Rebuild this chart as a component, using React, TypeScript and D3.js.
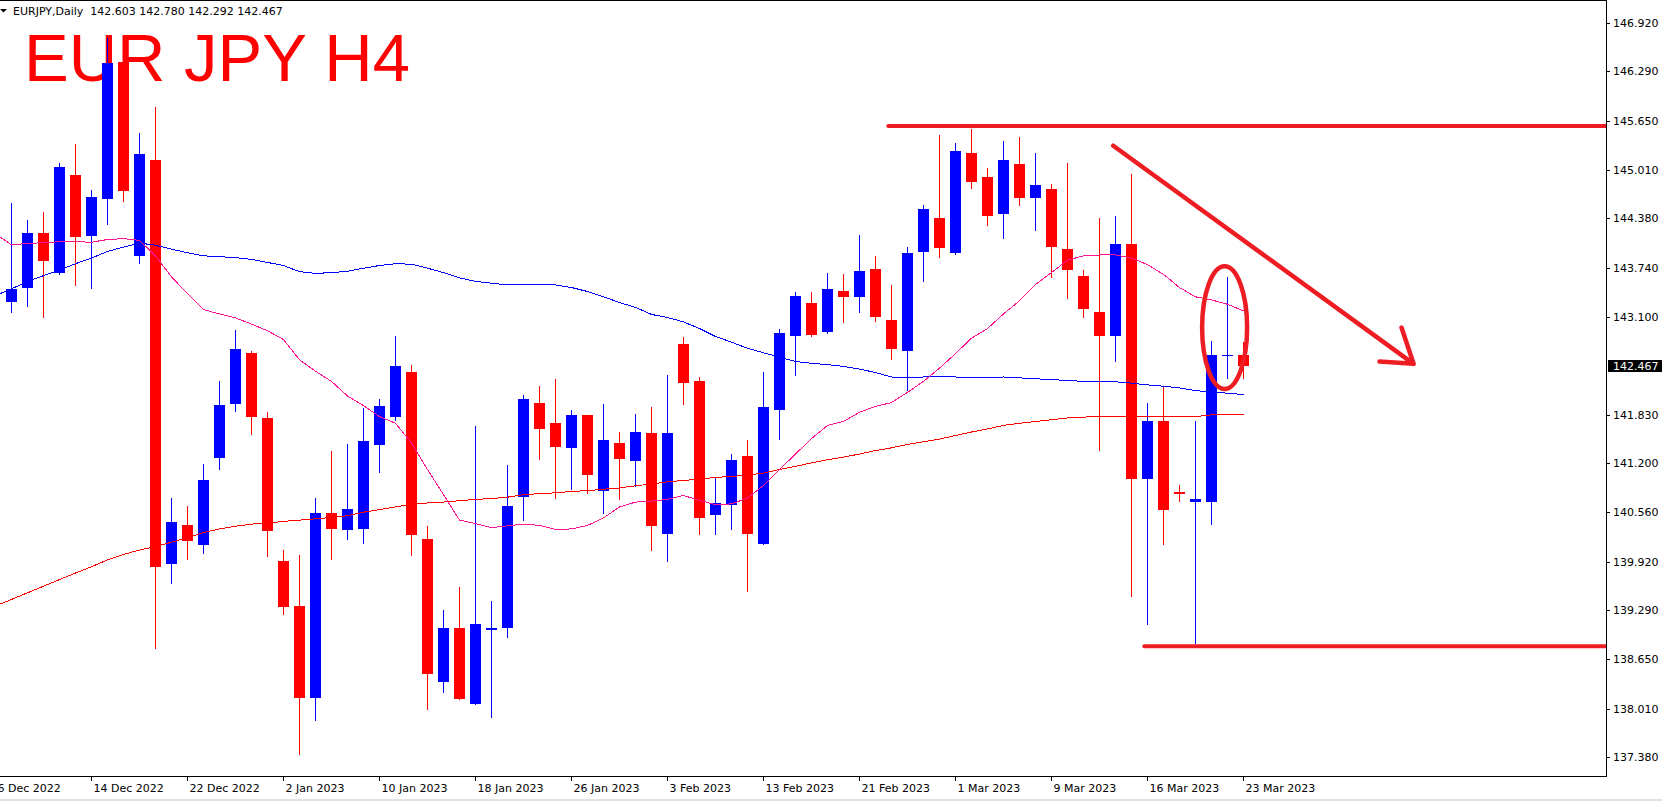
import React, { useEffect } from 'react';
import * as d3 from 'd3';

const W = 1662;
const H = 801;
const PLOT_RIGHT = 1606;
const PLOT_BOTTOM = 776;

const opens = [143.298, 143.476, 144.186, 143.676, 144.941, 144.157, 144.638, 146.417, 143.894, 145.136,
  139.886, 140.390, 140.132, 141.266, 141.970, 142.628, 141.781, 139.921, 139.337, 138.146,
  140.556, 140.327, 140.344, 141.438, 141.798, 142.382, 140.207, 138.352, 139.051, 138.071,
  139.028, 139.056, 140.756, 141.976, 141.718, 141.398, 141.821, 140.837, 141.455, 141.226,
  141.587, 140.275, 142.743, 142.262, 140.527, 140.653, 141.289, 140.150, 141.890, 142.852,
  143.275, 142.903, 143.436, 143.361, 143.722, 143.058, 142.657, 143.945, 144.386, 143.934,
  145.228, 144.918, 144.443, 145.085, 144.649, 144.758, 143.980, 143.630, 143.161, 142.852,
  144.043, 140.991, 141.741, 140.819, 140.699, 140.693, 142.588, 142.603];
const highs = [144.581, 144.357, 144.461, 145.096, 145.348, 144.747, 146.721, 146.430, 145.491, 145.829,
  140.751, 140.648, 141.192, 142.262, 142.926, 142.651, 141.861, 140.075, 140.000, 140.751,
  141.352, 141.443, 141.913, 142.039, 142.846, 142.480, 140.379, 139.285, 139.594, 141.678,
  139.411, 141.180, 142.085, 142.199, 142.291, 141.896, 141.830, 141.964, 141.598, 141.833,
  141.924, 142.342, 142.835, 142.319, 141.020, 141.312, 141.495, 142.382, 142.938, 143.430,
  143.430, 143.670, 143.653, 144.163, 143.888, 143.510, 144.008, 144.552, 145.462, 145.359,
  145.548, 145.033, 145.382, 145.440, 145.228, 144.827, 145.096, 143.705, 144.386, 144.409,
  144.953, 141.987, 142.199, 140.911, 141.741, 142.783, 143.613, 142.780];
const lows = [143.155, 143.230, 143.086, 143.648, 143.504, 143.464, 144.300, 144.597, 143.791, 138.781,
  139.629, 139.938, 140.018, 141.111, 141.867, 141.564, 139.978, 139.222, 137.400, 137.848,
  139.938, 140.201, 140.150, 141.071, 141.747, 139.989, 137.986, 138.209, 138.120, 138.060,
  137.882, 138.925, 140.447, 141.243, 140.733, 140.848, 140.796, 140.539, 140.722, 140.888,
  140.058, 139.915, 141.953, 140.264, 140.264, 140.327, 139.526, 140.132, 141.501, 142.331,
  142.840, 142.880, 143.024, 143.155, 143.035, 142.543, 142.136, 143.556, 143.871, 143.905,
  144.764, 144.283, 144.106, 144.546, 144.220, 143.607, 143.333, 143.081, 141.357, 142.514,
  139.457, 139.096, 140.132, 140.688, 138.844, 140.396, 142.296, 142.292];
const closes = [143.459, 144.186, 143.831, 145.044, 144.140, 144.655, 146.396, 144.740, 145.216, 139.852,
  140.430, 140.184, 140.985, 141.953, 142.680, 141.798, 140.316, 139.331, 138.146, 140.545,
  140.344, 140.607, 141.484, 141.936, 142.468, 140.264, 138.455, 139.051, 138.129, 139.113,
  139.062, 140.648, 142.039, 141.644, 141.409, 141.821, 141.043, 141.506, 141.254, 141.598,
  140.384, 141.587, 142.245, 140.487, 140.676, 141.237, 140.275, 141.924, 142.886, 143.367,
  142.869, 143.459, 143.361, 143.693, 143.104, 142.686, 143.928, 144.501, 143.997, 145.256,
  144.856, 144.415, 145.136, 144.649, 144.810, 144.014, 143.710, 143.207, 142.852, 144.043,
  140.991, 141.741, 140.590, 140.802, 140.728, 142.600, 142.606, 142.467];

// moving averages, first value belongs to bar -1 (just off the left edge)
const maStartBar = -1;
const maBlue = [143.378,
  143.464, 143.562, 143.636, 143.710, 143.791, 143.865, 143.951, 144.008, 144.060, 144.031,
  143.980, 143.934, 143.894, 143.882, 143.871, 143.848, 143.808, 143.768, 143.688, 143.665,
  143.676, 143.693, 143.733, 143.768, 143.791, 143.785, 143.733, 143.676, 143.607, 143.562,
  143.539, 143.516, 143.522, 143.522, 143.516, 143.482, 143.430, 143.361, 143.287, 143.224,
  143.132, 143.092, 143.035, 142.949, 142.846, 142.772, 142.692, 142.634, 142.577, 142.520,
  142.497, 142.480, 142.457, 142.422, 142.377, 142.319, 142.314, 142.319, 142.319, 142.319,
  142.314, 142.314, 142.319, 142.308, 142.296, 142.285, 142.274, 142.262, 142.257, 142.257,
  142.239, 142.216, 142.199, 142.176, 142.142, 142.125, 142.108, 142.090];
const maPink = [144.180,
  144.037, 144.054, 144.065, 144.077, 144.077, 144.071, 144.106, 144.117, 144.094, 143.894,
  143.620, 143.401, 143.195, 143.138, 143.087, 143.007, 142.920, 142.806, 142.543, 142.394,
  142.262, 142.073, 141.947, 141.804, 141.718, 141.460, 141.117, 140.790, 140.459, 140.413,
  140.361, 140.384, 140.407, 140.390, 140.338, 140.344, 140.390, 140.487, 140.630, 140.693,
  140.705, 140.728, 140.779, 140.716, 140.659, 140.670, 140.745, 140.910, 141.117, 141.317,
  141.518, 141.690, 141.741, 141.861, 141.936, 141.987, 142.119, 142.262, 142.434, 142.623,
  142.823, 142.949, 143.138, 143.310, 143.522, 143.676, 143.837, 143.894, 143.905, 143.905,
  143.865, 143.779, 143.653, 143.481, 143.361, 143.321, 143.264, 143.178];
const maRed = [139.343,
  139.428, 139.514, 139.600, 139.686, 139.771, 139.852, 139.943, 140.012, 140.070, 140.115,
  140.172, 140.230, 140.298, 140.344, 140.379, 140.407, 140.419, 140.442, 140.459, 140.476,
  140.493, 140.516, 140.562, 140.596, 140.630, 140.665, 140.682, 140.694, 140.711, 140.728,
  140.739, 140.757, 140.791, 140.802, 140.814, 140.831, 140.842, 140.860, 140.877, 140.905,
  140.928, 140.957, 140.974, 140.991, 141.014, 141.026, 141.043, 141.070, 141.117, 141.157,
  141.203, 141.243, 141.278, 141.317, 141.363, 141.398, 141.443, 141.478, 141.512, 141.558,
  141.604, 141.644, 141.690, 141.718, 141.741, 141.764, 141.787, 141.798, 141.804, 141.804,
  141.804, 141.804, 141.804, 141.804, 141.804, 141.827, 141.827, 141.827];

const yTickValues = [146.92, 146.29, 145.65, 145.01, 144.38, 143.74, 143.10, 141.83, 141.20, 140.56, 139.92, 139.29, 138.65, 138.01, 137.38];
const lastPrice = 142.467;
const xTickBars = [-1, 5, 11, 17, 23, 29, 35, 41, 47, 53, 59, 65, 71, 77];
const xTickLabels = ['6 Dec 2022', '14 Dec 2022', '22 Dec 2022', '2 Jan 2023', '10 Jan 2023', '18 Jan 2023', '26 Jan 2023', '3 Feb 2023', '13 Feb 2023', '21 Feb 2023', '1 Mar 2023', '9 Mar 2023', '16 Mar 2023', '23 Mar 2023'];

const headerText = 'EURJPY,Daily  142.603 142.780 142.292 142.467';
const titleText = 'EUR JPY H4';

// annotations in data units (bar index, price)
const resistance = { fromBar: 54.8, price: 145.58 };
const support = { fromBar: 70.8, price: 138.82 };
const arrowStart = { bar: 68.86, price: 145.325 };
const arrowTip = { bar: 87.63, price: 142.49 };
const arrowWingA = { bar: 85.5, price: 142.52 };
const arrowWingB = { bar: 86.875, price: 142.962 };
const ellipseMark = { bar: 75.82, price: 142.961, halfBars: 1.406, halfPrice: 0.797 };

const BLUE = '#0000ff';
const RED = '#ff0000';
const PINK = '#ff1493';
const MARK = '#ee1d23';
const FONT = '"DejaVu Sans", Verdana, sans-serif';

export default function App() {
  useEffect(() => {
    document.body.style.margin = '0';
  }, []);

  const x = d3.scaleLinear().domain([0, 77]).range([11.5, 1243.5]);
  const y = d3.scaleLinear().domain([137.133, 147.2188]).range([PLOT_BOTTOM, 0]);

  const maLine = d3.line<number>()
    .x((_, i) => x(i + maStartBar))
    .y((d) => y(d));

  const candles = opens.map((o, i) => {
    const c = closes[i];
    const up = c >= o;
    const color = up ? BLUE : RED;
    const cx = x(i);
    const yo = y(o);
    const yc = y(c);
    const top = Math.round(Math.min(yo, yc));
    const bot = Math.round(Math.max(yo, yc));
    const hgt = Math.max(1, bot - top);
    const yh = Math.round(y(highs[i]));
    const yl = Math.round(y(lows[i]));
    return (
      <g key={i} fill={color}>
        <rect x={cx - 0.5} y={yh} width={1} height={Math.max(1, yl - yh)} />
        <rect x={cx - 5.5} y={top} width={11} height={hgt} />
      </g>
    );
  });

  const pt = (p: { bar: number; price: number }) => [x(p.bar), y(p.price)];
  const [sx, sy] = pt(arrowStart);
  const [tx, ty] = pt(arrowTip);
  const [ax, ay] = pt(arrowWingA);
  const [bx, by] = pt(arrowWingB);
  const ecx = x(ellipseMark.bar);
  const ecy = y(ellipseMark.price);
  const erx = x(ellipseMark.bar + ellipseMark.halfBars) - ecx;
  const ery = y(ellipseMark.price - ellipseMark.halfPrice) - ecy;

  const lastY = y(lastPrice);

  return (
    <svg width={W} height={H} style={{ position: 'absolute', left: 0, top: 0, display: 'block' }} xmlns="http://www.w3.org/2000/svg">
      <defs>
        <clipPath id="plot">
          <rect x={0} y={0} width={PLOT_RIGHT} height={PLOT_BOTTOM} />
        </clipPath>
      </defs>
      <rect x={0} y={0} width={W} height={H} fill="#ffffff" />

      <text x={24} y={81} fontFamily='"Liberation Sans", Arial, sans-serif' fontSize={67} fill={RED}>{titleText}</text>

      <g clipPath="url(#plot)" shapeRendering="crispEdges">
        {candles}
      </g>

      <g clipPath="url(#plot)" fill="none" strokeWidth={1} shapeRendering="crispEdges">
        <path d={maLine(maRed) || ''} stroke={RED} />
        <path d={maLine(maBlue) || ''} stroke={BLUE} />
        <path d={maLine(maPink) || ''} stroke={PINK} />
      </g>

      <g clipPath="url(#plot)" fill="none" stroke={MARK} strokeLinecap="round" strokeLinejoin="round">
        <line x1={x(resistance.fromBar)} y1={y(resistance.price)} x2={PLOT_RIGHT + 4} y2={y(resistance.price)} strokeWidth={4} />
        <line x1={x(support.fromBar)} y1={y(support.price)} x2={PLOT_RIGHT + 4} y2={y(support.price)} strokeWidth={4} />
        <path d={`M${sx},${sy}L${tx},${ty}M${ax},${ay}L${tx},${ty}L${bx},${by}`} strokeWidth={4.5} />
        <ellipse cx={ecx} cy={ecy} rx={erx} ry={ery} strokeWidth={4.5} />
      </g>

      <g shapeRendering="crispEdges" stroke="#000" strokeWidth={1}>
        <line x1={0} y1={0.5} x2={PLOT_RIGHT + 0.5} y2={0.5} />
        <line x1={PLOT_RIGHT + 0.5} y1={0} x2={PLOT_RIGHT + 0.5} y2={PLOT_BOTTOM + 0.5} />
        <line x1={0} y1={PLOT_BOTTOM + 0.5} x2={PLOT_RIGHT + 0.5} y2={PLOT_BOTTOM + 0.5} />
        {yTickValues.map((v) => (
          <line key={v} x1={PLOT_RIGHT} y1={Math.round(y(v)) + 0.5} x2={PLOT_RIGHT + 4} y2={Math.round(y(v)) + 0.5} />
        ))}
        {xTickBars.map((b) => (
          <line key={b} x1={Math.floor(x(b)) + 0.5} y1={PLOT_BOTTOM} x2={Math.floor(x(b)) + 0.5} y2={PLOT_BOTTOM + 5} />
        ))}
      </g>

      <g fontFamily={FONT} fontSize={11} fill="#000">
        {yTickValues.map((v) => (
          <text key={v} x={1613} y={Math.round(y(v)) + 4}>{v.toFixed(3)}</text>
        ))}
        {xTickBars.map((b, i) => (
          <text key={b} x={x(b) + 2} y={792}>{xTickLabels[i]}</text>
        ))}
      </g>

      <rect x={1608} y={Math.round(lastY) - 6} width={54} height={12} fill="#000" />
      <text x={1613} y={Math.round(lastY) + 4} fontFamily={FONT} fontSize={11} fill="#fff">{lastPrice.toFixed(3)}</text>

      <path d="M0,9L7,9L3.5,12.5Z" fill="#000" />
      <text x={13} y={15} fontFamily={FONT} fontSize={11} fill="#000" style={{ whiteSpace: 'pre' }}>{headerText}</text>

      <rect x={0} y={799} width={W} height={2} fill="#e3e3e3" />
    </svg>
  );
}
